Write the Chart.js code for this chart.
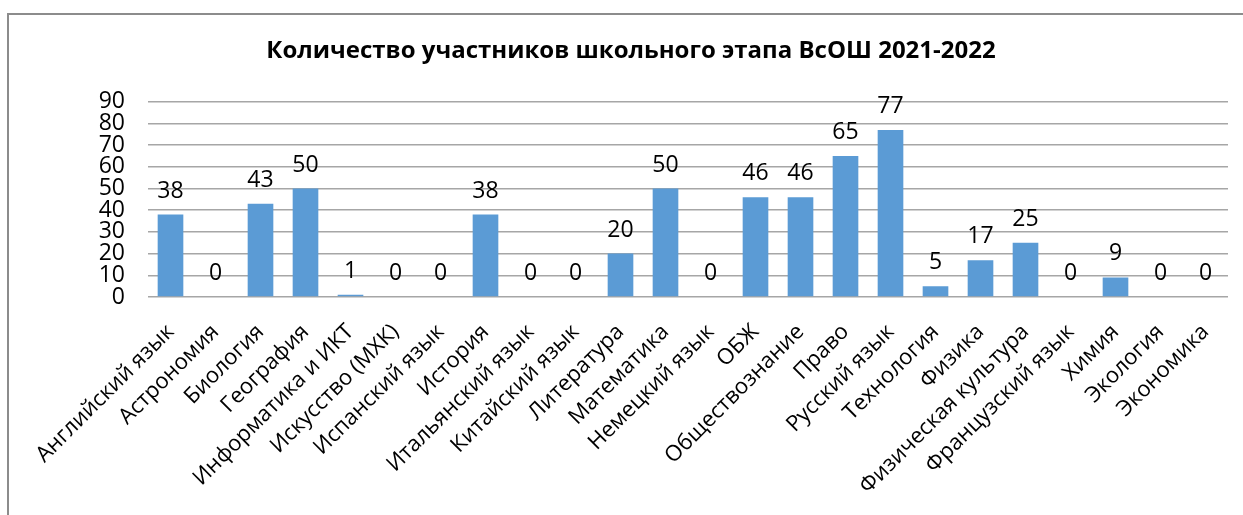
<!DOCTYPE html>
<html lang="ru">
  <head>
    <meta charset="UTF-8" />
    <title>ВсОШ 2021-2022</title>
    <script src="https://cdn.jsdelivr.net/npm/chart.js@4.5.0/dist/chart.umd.min.js"></script>
    <style>
      body { margin: 0; background: #fff; overflow: hidden; }
      #frame {
        position: absolute; left: 7px; top: 13px; width: 1400px; height: 600px;
        border-left: 2px solid #8c8c8c; border-top: 2px solid #8c8c8c;
      }
      #myChart { position: absolute; left: 0; top: 0; }
    </style>
  </head>
  <body>
    <div id="frame"></div>
    <canvas id="myChart" width="1243" height="515"></canvas>

    <script>
      const subjects = [
        "Английский язык", "Астрономия", "Биология", "География",
        "Информатика и ИКТ", "Искусство (МХК)", "Испанский язык", "История",
        "Итальянский язык", "Китайский язык", "Литература", "Математика",
        "Немецкий язык", "ОБЖ", "Обществознание", "Право", "Русский язык",
        "Технология", "Физика", "Физическая культура", "Французский язык",
        "Химия", "Экология", "Экономика",
      ];
      const participants = [
        38, 0, 43, 50, 1, 0, 0, 38, 0, 0, 20, 50, 0, 46, 46, 65, 77, 5, 17, 25, 0, 9, 0, 0,
      ];
      const titleText = "Количество участников школьного этапа ВсОШ 2021-2022";

      const FONT = "'Open Sans', sans-serif";

      // value labels over the bars
      const barLabels = {
        id: "barLabels",
        afterDatasetsDraw(chart) {
          const c = chart.ctx;
          const meta = chart.getDatasetMeta(0);
          c.save();
          c.font = "23px " + FONT;
          c.fillStyle = "#000";
          c.textAlign = "center";
          c.textBaseline = "alphabetic";
          meta.data.forEach((bar, i) => {
            c.fillText(String(participants[i]), bar.x, bar.y - 17);
          });
          c.restore();
        },
      };

      new Chart(document.getElementById("myChart"), {
        type: "bar",
        data: {
          labels: subjects,
          datasets: [
            {
              data: participants,
              backgroundColor: "#5B9BD5",
              categoryPercentage: 1,
              barPercentage: 0.57,
            },
          ],
        },
        options: {
          responsive: false,
          animation: false,
          layout: { padding: { left: 34, right: 15, top: 0, bottom: 0 } },
          plugins: {
            legend: { display: false },
            tooltip: { enabled: false },
            title: {
              display: true,
              text: titleText,
              color: "#000",
              font: { family: FONT, size: 24, weight: "bold" },
              padding: { top: 37, bottom: 36 },
            },
          },
          scales: {
            x: {
              grid: { display: false },
              border: { display: false },
              afterFit: (scale) => { scale.height = 218; },
              ticks: {
                autoSkip: false,
                minRotation: 45,
                maxRotation: 45,
                color: "#000",
                padding: 14,
                font: { family: FONT, size: 22 },
              },
            },
            y: {
              min: 0,
              max: 90,
              border: { display: false },
              grid: { color: "#a6a6a6", lineWidth: 1.5, drawTicks: false },
              afterFit: (scale) => { scale.width = 114; },
              ticks: {
                stepSize: 10,
                autoSkip: false,
                color: "#000",
                padding: 23,
                font: { family: FONT, size: 23 },
              },
            },
          },
        },
        plugins: [barLabels],
      });
    </script>
  </body>
</html>
